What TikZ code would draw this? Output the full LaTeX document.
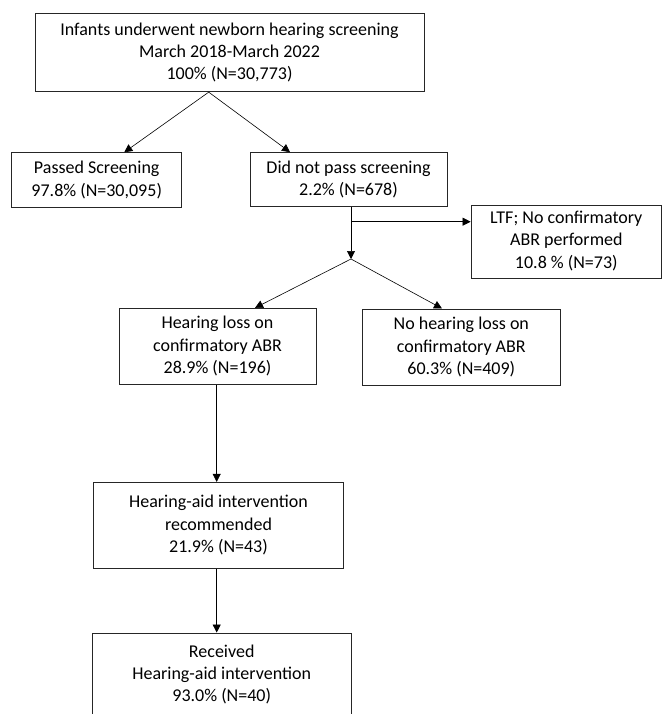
\documentclass[tikz,border=0pt]{standalone}
\usepackage{fontspec}
\setmainfont{Carlito}
\usetikzlibrary{arrows.meta}
\begin{document}
\begin{tikzpicture}[x=1pt,y=-1pt,
  box/.style={draw=black!85,line width=0.9pt,align=center,inner sep=0pt,
    font=\fontsize{18}{22.4}\selectfont,anchor=center},
  arr/.style={draw=black,line width=0.6pt,-{Triangle[length=8pt,width=8pt]}},
  ln/.style={draw=black,line width=0.6pt}]
\useasboundingbox (0,0) rectangle (662,714);
\node[box,minimum width=389pt,minimum height=78.4pt] (top) at (229.5,52.5)
  {Infants underwent newborn hearing screening\\March 2018-March 2022\\100\% (N=30,773)};
\node[box,minimum width=170pt,minimum height=54.6pt] (pass) at (96.7,180)
  {Passed Screening\\97.8\% (N=30,095)};
\node[box,minimum width=197pt,minimum height=54pt] (dnp) at (348.5,179.6)
  {Did not pass screening\\2.2\% (N=678)};
\node[box,minimum width=190.5pt,minimum height=73.3pt,text depth=4pt] (ltf) at (566.3,241.7)
  {LTF; No confirmatory\\ABR performed\\10.8 \% (N=73)};
\node[box,minimum width=197pt,minimum height=75.7pt] (hl) at (217.5,346.2)
  {Hearing loss on\\confirmatory ABR\\28.9\% (N=196)};
\node[box,minimum width=197.3pt,minimum height=76.7pt] (nhl) at (461.3,347.3)
  {No hearing loss on\\confirmatory ABR\\60.3\% (N=409)};
\node[box,minimum width=250.4pt,minimum height=85.7pt] (harec) at (218.5,525.2)
  {Hearing-aid intervention\\recommended\\21.9\% (N=43)};
\node[box,minimum width=258.7pt,minimum height=83pt] (rec) at (221.7,674.5)
  {Received\\Hearing-aid intervention\\93.0\% (N=40)};
\coordinate (j) at (351,259);
\coordinate (b) at (351,221.7);
% connectors
\draw[arr] ([xshift=-20.8pt]top.south) -- ([xshift=27.6pt]pass.north);
\draw[arr] ([xshift=-20.8pt]top.south) -- ([xshift=-58.5pt]dnp.north);
\draw[arr] (dnp.south -| j) -- (j);
\draw[arr] (b) -- (ltf.west |- b);
\draw[arr] (j) -- ([xshift=37.5pt]hl.north);
\draw[arr] (j) -- ([xshift=-19.3pt]nhl.north);
\draw[arr] ([xshift=-0.8pt]hl.south) -- ([xshift=-0.8pt]hl.south |- harec.north);
\draw[arr] ([xshift=-1.8pt]harec.south) -- ([xshift=-1.8pt]harec.south |- rec.north);
\end{tikzpicture}
\end{document}
